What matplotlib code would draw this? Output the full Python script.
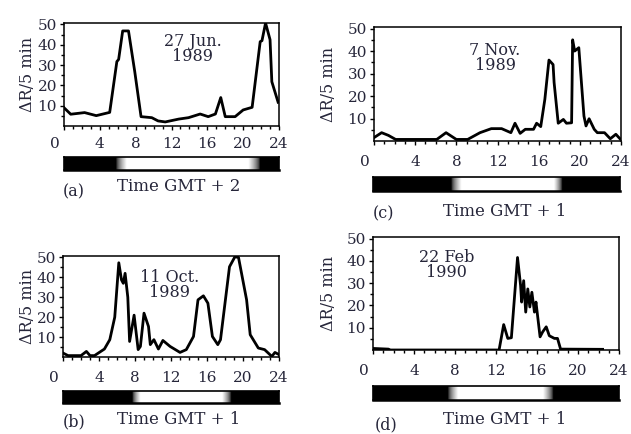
import matplotlib
matplotlib.use("Agg")
import matplotlib.pyplot as plt
import matplotlib.transforms as mtransforms
import numpy as np

plt.rcParams["font.family"] = ["DejaVu Serif"]

# Data (hours, dR/5 min)
hours_a = [0, 0.75, 2.3, 3.6, 5.1, 5.9, 6.1, 6.55, 7.2, 7.9, 8.6, 9.8, 10.5,
           11.3, 12.8, 13.9, 15.2, 16.1, 16.9, 17.5, 18.0, 19.1, 20.0, 21.0,
           21.9, 22.1, 22.5, 23.0, 23.2, 23.9]
vals_a = [9.0, 5.8, 6.6, 5.1, 6.7, 31.7, 32.8, 46.8, 46.8, 26.7, 4.6, 4.1,
          2.5, 2.0, 3.4, 4.1, 5.9, 4.6, 5.9, 14.0, 4.6, 4.6, 7.9, 9.2, 41.5,
          42.0, 50.7, 42.5, 21.8, 11.7]

hours_b = [0, 0.56, 2.0, 2.6, 3.0, 3.5, 4.6, 5.2, 5.75, 6.2, 6.5, 6.7, 6.9,
           7.2, 7.4, 7.9, 8.35, 8.6, 9.0, 9.5, 9.7, 10.1, 10.6, 11.1, 11.9,
           13.0, 13.7, 14.5, 15.0, 15.6, 16.1, 16.6, 17.2, 17.5, 18.5, 19.1,
           19.5, 20.4, 20.8, 21.7, 22.4, 23.2, 23.55, 24.0]
vals_b = [2.0, 0.7, 0.7, 2.8, 0.7, 0.7, 4.0, 8.7, 20.0, 47.3, 38.7, 37.0,
          42.0, 30.0, 7.8, 21.0, 3.7, 5.3, 22.0, 15.3, 6.2, 8.7, 4.0, 8.3,
          5.3, 2.3, 3.7, 10.3, 28.7, 30.7, 27.0, 10.3, 6.2, 8.7, 45.3, 50.3,
          50.0, 28.7, 11.2, 4.5, 3.7, 0.3, 2.3, 1.2]

hours_c = [0, 0.74, 1.4, 2.1, 6.1, 7.0, 8.0, 9.1, 10.3, 11.4, 12.4, 13.3,
           13.7, 14.2, 14.7, 15.5, 15.8, 16.2, 16.6, 17.0, 17.4, 17.5, 17.9,
           18.4, 18.7, 19.2, 19.3, 19.5, 19.9, 20.4, 20.6, 20.9, 21.4, 21.7,
           22.4, 22.96, 23.5, 23.9]
vals_c = [1.5, 3.7, 2.5, 0.7, 0.7, 3.7, 0.7, 0.7, 3.7, 5.5, 5.5, 3.7, 7.9,
          3.4, 5.2, 5.2, 7.9, 6.4, 18.5, 36.0, 34.0, 26.0, 7.9, 9.6, 7.9,
          8.1, 45.0, 40.0, 41.5, 11.1, 6.7, 9.9, 5.2, 3.7, 3.7, 1.0, 3.0, 1.0]

hours_d = [0, 1.5, 1.7, 12.3, 12.75, 13.15, 13.5, 14.1, 14.4, 14.5, 14.7,
           14.9, 15.1, 15.3, 15.5, 15.75, 15.9, 16.3, 16.55, 16.9, 17.2, 17.7,
           18.0, 18.3, 22.4]
vals_d = [0.7, 0.4, 0.0, 0.0, 11.4, 5.2, 5.5, 41.5, 28.9, 21.5, 31.1, 17.0,
          27.4, 19.3, 25.9, 17.0, 21.5, 5.9, 8.1, 10.4, 6.4, 5.2, 5.2, 0.4,
          0.3]

# Twilight: start of dawn, end of dawn, start of dusk, end of dusk (hours)
twilight_a = [5.8, 7.0, 20.6, 21.9]
twilight_b = [7.7, 8.6, 17.7, 18.7]
twilight_c = [7.6, 8.6, 17.6, 18.4]
twilight_d = [7.3, 8.3, 16.6, 17.6]

dates = ["27 Jun.\n1989", "11 Oct.\n1989", "7 Nov.\n1989", "22 Feb\n1990"]
time_labels = ["Time GMT + 2", "Time GMT + 1", "Time GMT + 1", "Time GMT + 1"]
tags = ["(a)", "(b)", "(c)", "(d)"]
xtick_vals = [0, 4, 8, 12, 16, 20, 24]
ytick_vals = [10, 20, 30, 40, 50]

W, H = 631, 434
TXT = "#26263a"


def frac(x0, y0, x1, y1):
    # pixel box (top-left origin) -> figure fraction rect
    return [x0 / W, 1 - y1 / H, (x1 - x0) / W, (y1 - y0) / H]


layout = [
    # axes box, bar box, date pos, xlabel pos, tag pos, ylabel x
    dict(ax=(64, 23, 279, 126), bar=(64, 157, 279, 170), date=(0.60, 0.745),
         xl=(179, 187), tag=(74, 192), yl=27, pad=5),
    dict(ax=(63, 256, 279, 357), bar=(63, 391, 279, 403), date=(0.495, 0.715),
         xl=(179, 420), tag=(74, 422), yl=27, pad=7),
    dict(ax=(374, 27, 621, 141), bar=(373, 177, 620, 191), date=(0.49, 0.725),
         xl=(505, 212), tag=(384, 214), yl=329, pad=7),
    dict(ax=(373, 237, 619, 350), bar=(373, 386, 619, 400), date=(0.30, 0.75),
         xl=(505, 420), tag=(386, 425), yl=329, pad=7),
]
series = [(hours_a, vals_a, twilight_a), (hours_b, vals_b, twilight_b),
          (hours_c, vals_c, twilight_c), (hours_d, vals_d, twilight_d)]

fig = plt.figure(figsize=(W / 100, H / 100), dpi=100)

for i, (lay, (hrs, vals, tw)) in enumerate(zip(layout, series)):
    ax = fig.add_axes(frac(*lay["ax"]))
    ax.plot(hrs, vals, color="black", lw=2.0, solid_joinstyle="round")
    ax.set_xlim(0, 24)
    ax.set_ylim(0, 50.7)
    ax.set_xticks(xtick_vals)
    ax.set_xticks(np.arange(0, 25, 1), minor=True)
    ax.set_yticks(ytick_vals)
    ax.set_yticks(np.arange(5, 50, 10), minor=True)
    ax.tick_params(axis="both", which="major", direction="out", length=3,
                   width=1, labelsize=11, labelcolor=TXT)
    ax.tick_params(axis="both", which="minor", direction="out", length=2,
                   width=1)
    ax.tick_params(axis="x", which="major", pad=lay["pad"])
    ax.tick_params(axis="y", which="major", pad=2)
    for sp in ax.spines.values():
        sp.set_linewidth(1.1)
    # the "0" label sits left of the axis start
    lab0 = ax.get_xticklabels()[0]
    lab0.set_transform(lab0.get_transform() + mtransforms.ScaledTranslation(
        -0.09, 0, fig.dpi_scale_trans))
    ax.text(lay["date"][0], lay["date"][1], dates[i], transform=ax.transAxes,
            ha="center", va="center", fontsize=11.5, color=TXT,
            linespacing=0.85)

    # day / night bar
    bx = fig.add_axes(frac(*lay["bar"]))
    hh = np.linspace(0, 24, 481)
    light = np.interp(hh, [0, tw[0], tw[1], tw[2], tw[3], 24],
                      [0, 0, 1, 1, 0, 0])
    bx.imshow(light[np.newaxis, :] ** 0.6, cmap="gray", vmin=0, vmax=1,
              aspect="auto", extent=(0, 24, 0, 1), interpolation="bilinear")
    bx.set_xticks([])
    bx.set_yticks([])
    for sp in bx.spines.values():
        sp.set_linewidth(1.2)
    bx.spines["bottom"].set_linewidth(1.8)

    fig.text(lay["xl"][0] / W, 1 - lay["xl"][1] / H, time_labels[i],
             ha="center", va="center", fontsize=12, color=TXT)
    fig.text(lay["tag"][0] / W, 1 - lay["tag"][1] / H, tags[i],
             ha="center", va="center", fontsize=11.5, color=TXT)
    ymid = (lay["ax"][1] + lay["ax"][3]) / 2
    fig.text(lay["yl"] / W, 1 - ymid / H, "\u0394R/5 min", rotation=90,
             ha="center", va="center", fontsize=11.5, color=TXT)

fig.savefig("out.png", dpi=100)
